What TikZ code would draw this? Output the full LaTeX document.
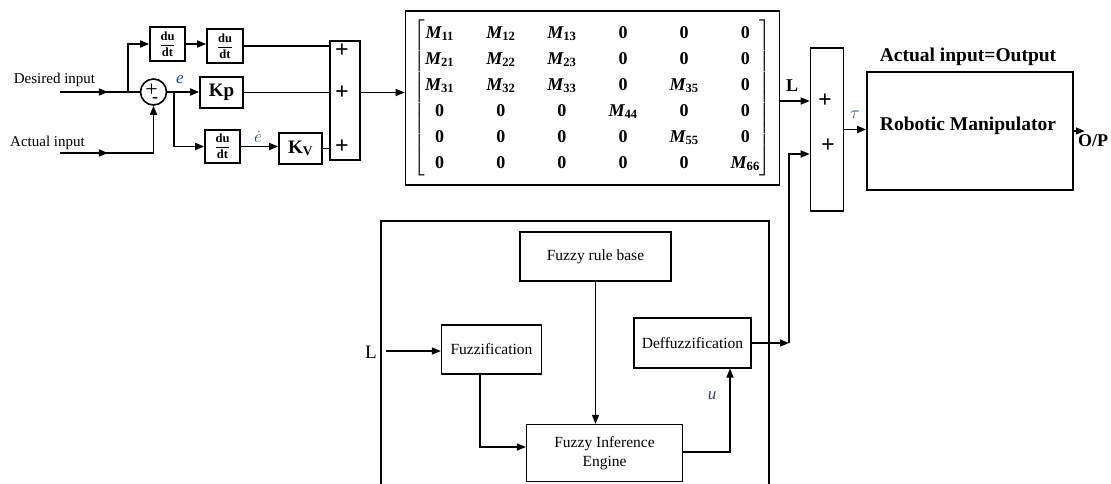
\documentclass[tikz,border=0pt]{standalone}
\usepackage{amsmath}
\usepackage{fontspec}
\setmainfont{Liberation Serif}
\usetikzlibrary{arrows.meta,decorations.markings,calc}
\definecolor{lblc}{RGB}{45,65,140}
\newcommand{\Mij}[1]{\text{\bfseries\itshape M}_{\text{\bfseries #1}}}
\newcommand{\zr}{\text{\bfseries 0}}

\begin{document}
\begin{tikzpicture}[x=1pt,y=-1pt,
  blk/.style={draw,line width=1.6pt,inner sep=0pt},
  fbox/.style={draw,line width=1.2pt,inner sep=0pt,align=center,
    font=\fontsize{15.5}{18}\selectfont},
  wire/.style={line width=1.6pt},
  sig/.style={wire,-{Triangle[length=9pt,width=7pt]}},
  fsig/.style={line width=1.2pt,-{Triangle[length=9pt,width=7pt]}},
  midarr/.style={postaction={decorate},decoration={markings,
    mark=at position #1 with {\arrow{Triangle[length=9pt,width=7pt]}}}},
  dudt/.style={blk,font=\fontsize{12.5}{13}\selectfont},
  lbl/.style={text=lblc,font=\fontsize{17}{17}\selectfont\itshape},
  txt/.style={font=\fontsize{15}{15}\selectfont},
  bigb/.style={font=\bfseries\fontsize{19.5}{19.5}\selectfont},
  plus/.style={font=\bfseries\fontsize{24}{24}\selectfont}]
\useasboundingbox (0,0) rectangle (1111,484);

% PD part
\node[txt] (dinlbl) at (54.5,80) {Desired input};
\node[txt] (ainlbl) at (47.5,143) {Actual input};
\coordinate (din) at (60,92);
\coordinate (ain) at (60,153);
\coordinate (br1) at (128,92);
\coordinate (br2) at (174,92);

\node[draw,circle,line width=1.6pt,minimum size=26pt,inner sep=0pt] (sumc) at (153.5,92) {};
\node[font=\fontsize{22}{22}\selectfont] (sp) at (151.5,90) {+};
\node[font=\bfseries\fontsize{18}{18}\selectfont] (sm) at (155,100) {-};

\node[dudt,minimum width=35pt,minimum height=34pt] (d1) at (167.5,44) {$\dfrac{\textbf{du}}{\textbf{dt}}$};
\node[dudt,minimum width=36pt,minimum height=34pt] (d2) at (225,46) {$\dfrac{\textbf{du}}{\textbf{dt}}$};
\node[dudt,minimum width=35pt,minimum height=33pt] (d3) at (222.5,146.5) {$\dfrac{\textbf{du}}{\textbf{dt}}$};
\node[blk,minimum width=43pt,minimum height=31pt,font=\bfseries\fontsize{19}{19}\selectfont] (kp) at (221.5,92.5) {Kp};
\node[blk,minimum width=43pt,minimum height=31pt,font=\bfseries\fontsize{19}{19}\selectfont] (kv) at (300.5,148.5) {K\textsubscript{V}};
\node[blk,minimum width=30pt,minimum height=119pt] (sum1) at (345,100.5) {};
\node[plus] (p1) at (342,51) {+};
\node[plus] (p2) at (342,93) {+};
\node[plus] (p3) at (342,147) {+};

\draw[wire,midarr=0.6] (din) -- (sumc.west);
\draw[sig] (br1) |- (d1.west);
\draw[sig] (d1.east) -- (d1.east -| d2.west);
\draw[wire] (d2.east) -- (d2.east -| sum1.west);
\draw[sig] (sumc.east) -- (sumc.east -| kp.west);
\draw[sig] (br2) |- (d3.west);
\draw[sig] (d3.east) -- (d3.east -| kv.west);
\draw[wire] (kp.east) -- (kp.east -| sum1.west);
\draw[wire] (kv.east) -- (kv.east -| sum1.west);
\draw[sig,midarr=0.34] (ain) -| (sumc.south);
\node[lbl] (elbl) at (180,80) {e};
\node[lbl] (edlbl) at (258,137) {$\dot{e}$};

% mass matrix
\node[blk,minimum width=374pt,minimum height=174pt] (mat) at (592.5,98)
  {\fontsize{18}{26}\selectfont\setlength{\arraycolsep}{16pt}$\begin{bmatrix}
  \Mij{11} & \Mij{12} & \Mij{13} & \zr & \zr & \zr\\
  \Mij{21} & \Mij{22} & \Mij{23} & \zr & \zr & \zr\\
  \Mij{31} & \Mij{32} & \Mij{33} & \zr & \Mij{35} & \zr\\
  \zr & \zr & \zr & \Mij{44} & \zr & \zr\\
  \zr & \zr & \zr & \zr & \Mij{55} & \zr\\
  \zr & \zr & \zr & \zr & \zr & \Mij{66}
  \end{bmatrix}$};
\draw[sig] (sum1.east |- kp.east) -- (mat.west |- kp.east);

% torque sum and plant
\node[blk,minimum width=33pt,minimum height=163pt] (sum2) at (827,129.5) {};
\node[plus] (q1) at (825,101) {+};
\node[plus] (q2) at (828,146) {+};
\draw[sig] ([yshift=-3pt]mat.east) -- ([yshift=-3pt]mat.east -| sum2.west);
\node[font=\bfseries\fontsize{18}{18}\selectfont] (Llbl) at (792,86) {L};
\node[blk,minimum width=206pt,minimum height=118pt] (robot) at (970,131) {};
\node[bigb] (rtext) at (968,126) {Robotic Manipulator};
\node[bigb] (rtitle) at (968,57) {Actual input=Output};
\draw[sig] (sum2.east) -- (sum2.east -| robot.west);
\node[lbl] (taulbl) at (855,115) {$\tau$};
\coordinate (op) at ([xshift=11pt]robot.east);
\draw[sig] (robot.east) -- (op);
\node[font=\bfseries\fontsize{18}{18}\selectfont] (oplbl) at (1093,141) {O/P};

% fuzzy part
\draw[line width=1.3pt] (381,484) |- (769,221) -- (769,484);
\node[fbox,minimum width=151pt,minimum height=49pt] (rule) at (595.5,256.5) {Fuzzy rule base};
\node[fbox,minimum width=100pt,minimum height=49pt] (fuzz) at (491.5,349.5) {Fuzzification};
\node[fbox,minimum width=117pt,minimum height=50pt] (defz) at (692.5,343) {Deffuzzification};
\node[fbox,minimum width=156pt,minimum height=57pt] (fie) at (604.5,453) {Fuzzy Inference\\[1pt]Engine};
\node[font=\fontsize{19}{19}\selectfont] (Lin) at (371,352) {L};
\coordinate (lin) at (386,351);
\coordinate (jn) at (789,343);
\draw[fsig] (lin) -- (lin -| fuzz.west);
\draw[fsig] ([xshift=-11.5pt]fuzz.south) |- ([yshift=6pt]fie.west);
\draw[fsig] (rule.south) -- (rule.south |- fie.north);
\draw[fsig] ([yshift=1pt]fie.east) -| ([xshift=37.5pt]defz.south);
\node[lbl] (ulbl) at (712,396) {u};
\draw[fsig] (defz.east) -- (jn);
\draw[sig] (jn) |- ([yshift=-24.5pt]sum2.west);
\end{tikzpicture}
\end{document}
